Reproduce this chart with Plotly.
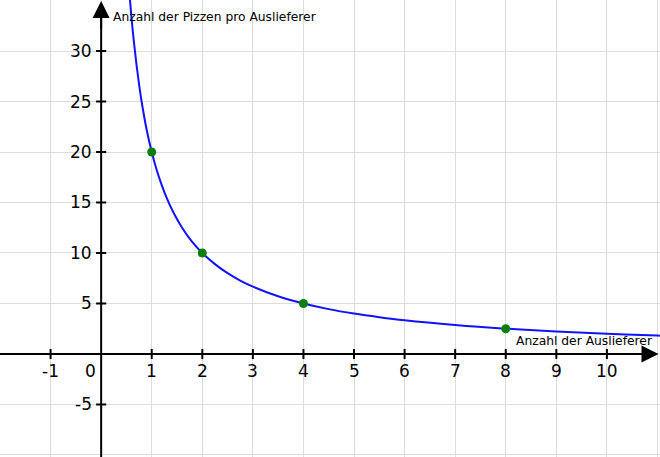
import plotly.graph_objects as go

# Data
curve_x = [0.57, 0.6, 0.65, 0.7, 0.75, 0.8, 0.9, 1.0, 1.1, 1.2, 1.3, 1.4, 1.6, 1.8, 2.0, 2.25, 2.5, 2.75, 3.0,
           3.5, 4.0, 4.5, 5.0, 5.5, 6.0, 7.0, 8.0, 9.0, 10.0, 11.0, 11.1]
curve_y = [35.1, 33.3, 30.8, 28.6, 26.7, 25.0, 22.2, 20.0, 18.2, 16.7, 15.4, 14.3, 12.5, 11.1, 10.0, 8.9, 8.0,
           7.27, 6.67, 5.71, 5.0, 4.44, 4.0, 3.64, 3.33, 2.86, 2.5, 2.22, 2.0, 1.82, 1.8]
point_x = [1, 2, 4, 8]
point_y = [20, 10, 5, 2.5]
x_ticks = [-1, 1, 2, 3, 4, 5, 6, 7, 8, 9, 10]
y_ticks = [-5, 5, 10, 15, 20, 25, 30]
x_title = "Anzahl der Auslieferer"
y_title = "Anzahl der Pizzen pro Auslieferer"

X_MIN, X_MAX = -2.0, 11.05
Y_MIN, Y_MAX = -10.2, 35.05
FONT = "DejaVu Sans"

fig = go.Figure()
fig.add_trace(go.Scatter(x=curve_x, y=curve_y, mode="lines", line=dict(color="#1212ff", width=2, shape="spline"),
                         hoverinfo="skip", showlegend=False))
fig.add_trace(go.Scatter(x=point_x, y=point_y, mode="markers", marker=dict(color="#0a800a", size=9),
                         showlegend=False))

shapes = []
# axes
shapes.append(dict(type="line", xref="x", yref="y", x0=X_MIN, x1=X_MAX - 0.1, y0=0, y1=0,
                   line=dict(color="black", width=2), layer="above"))
shapes.append(dict(type="line", xref="x", yref="y", x0=0, x1=0, y0=Y_MIN, y1=Y_MAX - 0.5,
                   line=dict(color="black", width=2), layer="above"))
# tick marks
for t in x_ticks:
    shapes.append(dict(type="line", xref="x", yref="y", x0=t, x1=t, y0=-0.5, y1=0.5,
                       line=dict(color="black", width=2), layer="above"))
for t in y_ticks:
    shapes.append(dict(type="line", xref="x", yref="y", x0=-0.1, x1=0.1, y0=t, y1=t,
                       line=dict(color="black", width=2), layer="above"))

annotations = []
for t in x_ticks:
    annotations.append(dict(x=t, y=0, xref="x", yref="y", text=str(t), showarrow=False,
                            xanchor="center", yanchor="top", yshift=-5,
                            font=dict(family=FONT, size=17, color="black")))
annotations.append(dict(x=0, y=0, xref="x", yref="y", text="0", showarrow=False,
                        xanchor="right", yanchor="top", yshift=-5, xshift=-3,
                        font=dict(family=FONT, size=17, color="black")))
for t in y_ticks:
    annotations.append(dict(x=0, y=t, xref="x", yref="y", text=str(t), showarrow=False,
                            xanchor="right", yanchor="middle", xshift=-7,
                            font=dict(family=FONT, size=17, color="black")))
# axis arrows
annotations.append(dict(x=X_MAX - 0.03, y=0, ax=X_MAX - 0.6, ay=0, xref="x", yref="y", axref="x", ayref="y",
                        text="", showarrow=True, arrowhead=2, arrowsize=1.7, arrowwidth=2, arrowcolor="black"))
annotations.append(dict(x=0, y=Y_MAX - 0.1, ax=0, ay=Y_MAX - 3, xref="x", yref="y", axref="x", ayref="y",
                        text="", showarrow=True, arrowhead=2, arrowsize=1.7, arrowwidth=2, arrowcolor="black"))
# axis titles
annotations.append(dict(x=0.2, y=Y_MAX - 1.7, xref="x", yref="y", text=y_title, showarrow=False,
                        xanchor="left", yanchor="middle",
                        font=dict(family=FONT, size=12.3, color="black")))
annotations.append(dict(x=X_MAX - 0.1, y=1.3, xref="x", yref="y", text=x_title, showarrow=False,
                        xanchor="right", yanchor="middle",
                        font=dict(family=FONT, size=12.3, color="black")))

fig.update_layout(
    width=660, height=457,
    margin=dict(l=0, r=0, t=0, b=0),
    paper_bgcolor="white", plot_bgcolor="white",
    xaxis=dict(range=[X_MIN, X_MAX], tick0=0, dtick=1, showgrid=True, gridcolor="#dcdcdc", gridwidth=1,
               zeroline=False, showticklabels=False, ticks="", fixedrange=True),
    yaxis=dict(range=[Y_MIN, Y_MAX], tick0=0, dtick=5, showgrid=True, gridcolor="#dcdcdc", gridwidth=1,
               zeroline=False, showticklabels=False, ticks="", fixedrange=True),
    shapes=shapes, annotations=annotations,
    showlegend=False,
)

fig.write_html("out.html", config={"displayModeBar": False},
               post_script="document.body.style.margin='0';document.body.style.padding='0';")
